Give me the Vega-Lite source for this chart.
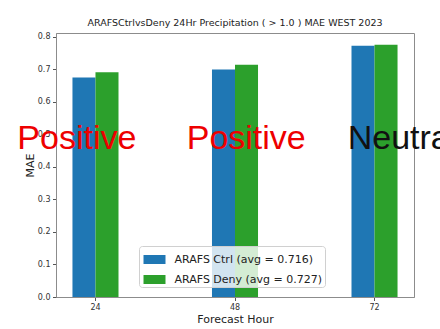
{
  "$schema": "https://vega.github.io/schema/vega-lite/v6.json",
  "autosize": {"type": "none"},
  "width": 358,
  "height": 264,
  "padding": {"left": 56, "top": 33, "right": 26, "bottom": 32},
  "background": "white",
  "config": {
    "font": "DejaVu Sans",
    "view": {"stroke": "#8c8c8c", "strokeWidth": 1},
    "axis": {
      "domainColor": "#8c8c8c",
      "tickColor": "#555555",
      "tickSize": 3.5,
      "labelFont": "DejaVu Sans",
      "labelFontSize": 8,
      "labelColor": "#333333",
      "labelPadding": 2.5,
      "labelOverlap": false,
      "titleFont": "DejaVu Sans",
      "titleFontSize": 11,
      "titleFontWeight": "normal",
      "titleColor": "#222222",
      "grid": false
    }
  },
  "title": {
    "text": "ARAFSCtrlvsDeny 24Hr Precipitation ( > 1.0 ) MAE WEST 2023",
    "font": "DejaVu Sans",
    "fontSize": 9.5,
    "fontWeight": "normal",
    "color": "#222222",
    "anchor": "middle",
    "offset": 5
  },
  "datasets": {
    "mae": [
      {"hour": "24", "series": "ARAFS Ctrl (avg = 0.716)", "mae": 0.675},
      {"hour": "24", "series": "ARAFS Deny (avg = 0.727)", "mae": 0.691},
      {"hour": "48", "series": "ARAFS Ctrl (avg = 0.716)", "mae": 0.700},
      {"hour": "48", "series": "ARAFS Deny (avg = 0.727)", "mae": 0.714},
      {"hour": "72", "series": "ARAFS Ctrl (avg = 0.716)", "mae": 0.773},
      {"hour": "72", "series": "ARAFS Deny (avg = 0.727)", "mae": 0.776}
    ],
    "verdicts": [
      {"label": "Positive", "pos": -0.56, "level": 0.455, "tone": "Positive"},
      {"label": "Positive", "pos": 0.654, "level": 0.455, "tone": "Positive"},
      {"label": "Neutral", "pos": 1.808, "level": 0.455, "tone": "Neutral"}
    ]
  },
  "layer": [
    {
      "data": {"name": "mae"},
      "mark": {"type": "bar", "stroke": null},
      "encoding": {
        "x": {
          "field": "hour",
          "type": "ordinal",
          "scale": {"domain": ["24", "48", "72"], "paddingInner": 0.67, "paddingOuter": 0.118},
          "axis": {"title": "Forecast Hour", "labelAngle": 0, "titlePadding": 2}
        },
        "xOffset": {
          "field": "series",
          "type": "nominal",
          "scale": {"domain": ["ARAFS Ctrl (avg = 0.716)", "ARAFS Deny (avg = 0.727)"], "paddingInner": 0, "paddingOuter": 0}
        },
        "y": {
          "field": "mae",
          "type": "quantitative",
          "scale": {"domain": [0, 0.812], "nice": false},
          "axis": {
            "title": "MAE",
            "values": [0, 0.1, 0.2, 0.3, 0.4, 0.5, 0.6, 0.7, 0.8],
            "format": ".1f",
            "labelOverlap": false,
            "titlePadding": 2
          }
        },
        "color": {
          "field": "series",
          "type": "nominal",
          "scale": {
            "domain": ["ARAFS Ctrl (avg = 0.716)", "ARAFS Deny (avg = 0.727)"],
            "range": ["#1f77b4", "#2ca02c"]
          },
          "legend": {
            "title": null,
            "orient": "none",
            "legendX": 83,
            "legendY": 213,
            "symbolType": "M-1,-0.41H1V0.41H-1Z",
            "symbolSize": 484,
            "symbolStrokeWidth": 0,
            "symbolOpacity": 1,
            "symbolOffset": 2,
            "rowPadding": 4,
            "labelFont": "DejaVu Sans",
            "labelFontSize": 11,
            "labelColor": "#222222",
            "labelOffset": 9,
            "labelLimit": 300,
            "padding": 2.5,
            "fillColor": "rgba(255,255,255,0.8)",
            "strokeColor": "#d0d0d0",
            "cornerRadius": 3
          }
        }
      }
    },
    {
      "data": {"name": "verdicts"},
      "mark": {"type": "text", "font": "Liberation Sans", "fontSize": 34, "align": "left", "baseline": "alphabetic"},
      "encoding": {
        "x": {
          "field": "pos",
          "type": "quantitative",
          "scale": {"domain": [-0.283, 2.283], "nice": false, "zero": false},
          "axis": null
        },
        "y": {
          "field": "level",
          "type": "quantitative",
          "axis": {
            "title": "MAE",
            "values": [0, 0.1, 0.2, 0.3, 0.4, 0.5, 0.6, 0.7, 0.8],
            "format": ".1f",
            "labelOverlap": false,
            "titlePadding": 2
          }
        },
        "text": {"field": "label"},
        "color": {
          "field": "tone",
          "type": "nominal",
          "scale": {"domain": ["Positive", "Neutral"], "range": ["#ee0000", "#111111"]},
          "legend": null
        }
      }
    }
  ],
  "resolve": {"scale": {"x": "independent", "color": "independent"}}
}
